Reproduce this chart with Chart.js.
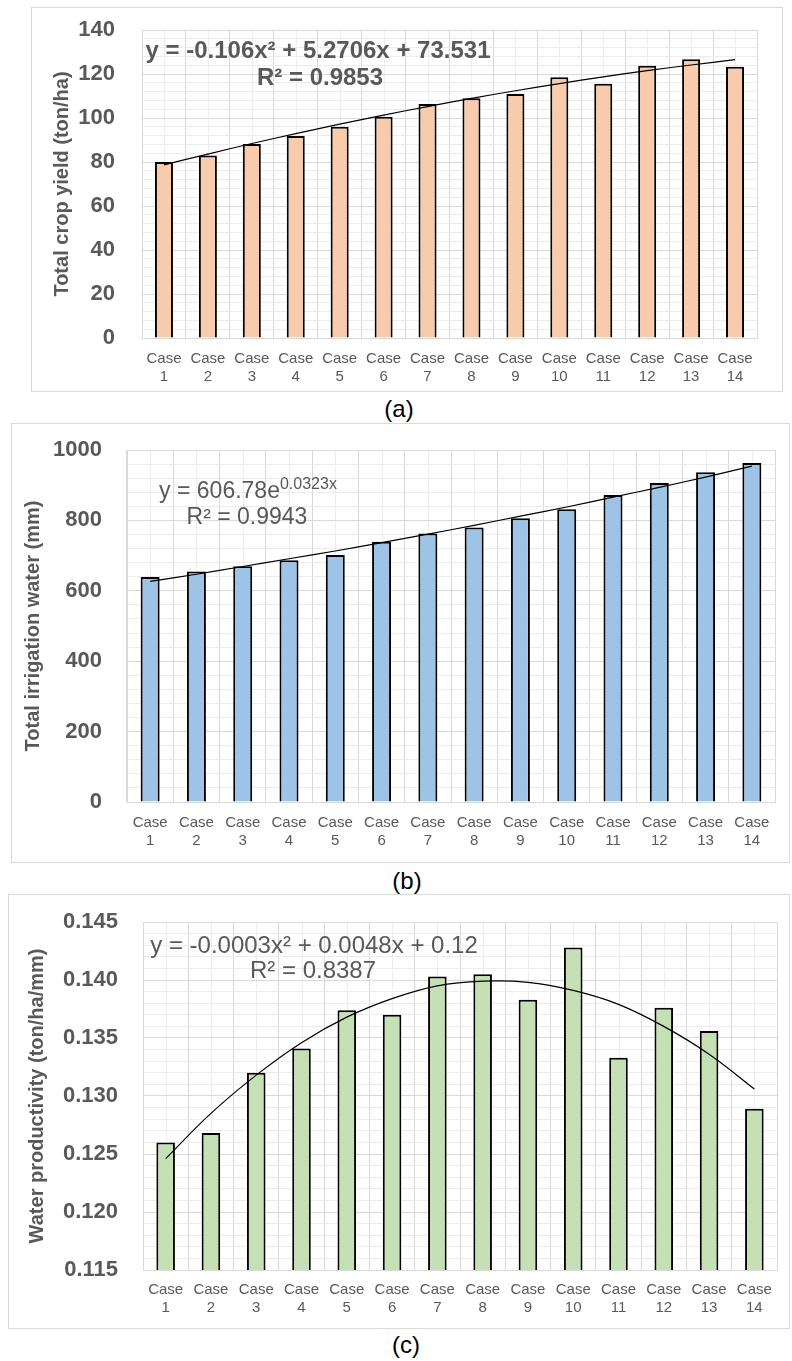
<!DOCTYPE html>
<html>
<head>
<meta charset="utf-8">
<script src="https://cdn.jsdelivr.net/npm/chart.js@4.4.0/dist/chart.umd.min.js"></script>
<style>
  body { margin: 0; background: #fff; font-family: 'Liberation Sans', Arial, sans-serif; }
  #page { position: relative; width: 792px; height: 1361px; overflow: hidden; }
  .box { position: absolute; border: 1px solid #d9d9d9; }
  .box canvas { position: absolute; left: 0; top: 0; }
  .eq { position: absolute; transform: translateX(-50%); white-space: nowrap; color: #595959; font-size: 23px; line-height: 26px; }
  .eq.big { font-size: 24px; }
  .eq.bold { font-weight: bold; }
  .eq sup { font-size: 16px; line-height: 0; }
  .cap { position: absolute; transform: translate(-50%, -50%); font-size: 24px; color: #000; }
</style>
</head>
<body>
<div id="page">
  <div class="box" style="left:31px;top:7px;width:750px;height:383px;"><canvas id="chartA" width="750" height="383"></canvas></div>
  <div class="eq bold big" style="left:318px;top:37px;">y = -0.106x² + 5.2706x + 73.531</div>
  <div class="eq bold big" style="left:320px;top:64px;">R² = 0.9853</div>
  <div class="cap" style="left:399px;top:409px;">(a)</div>

  <div class="box" style="left:11px;top:423px;width:777px;height:438px;"><canvas id="chartB" width="777" height="438"></canvas></div>
  <div class="eq" style="left:248px;top:477px;">y = 606.78e<sup>0.0323x</sup></div>
  <div class="eq" style="left:247px;top:503px;">R² = 0.9943</div>
  <div class="cap" style="left:407px;top:881px;">(b)</div>

  <div class="box" style="left:8px;top:894px;width:780px;height:433px;"><canvas id="chartC" width="780" height="433"></canvas></div>
  <div class="eq big" style="left:314px;top:932px;">y = -0.0003x² + 0.0048x + 0.12</div>
  <div class="eq big" style="left:313px;top:957px;">R² = 0.8387</div>
  <div class="cap" style="left:406px;top:1345px;">(c)</div>
</div>

<script>
// categories
const caseLabels = [
  ['Case', '1'], ['Case', '2'], ['Case', '3'], ['Case', '4'], ['Case', '5'],
  ['Case', '6'], ['Case', '7'], ['Case', '8'], ['Case', '9'], ['Case', '10'],
  ['Case', '11'], ['Case', '12'], ['Case', '13'], ['Case', '14']
];

// (a) total crop yield (ton/ha)
const cropYield = [80, 83, 88.2, 91.8, 96, 100.6, 106.4, 109, 110.9, 118.5, 115.6, 123.8, 126.7, 123.3];
const cropYieldTrend = [78.7, 83.6, 88.4, 92.9, 97.2, 101.3, 105.2, 108.9, 112.4, 115.6, 118.7, 121.5, 124.1, 126.5];

// (b) total irrigation water (mm)
const irrigation = [639, 655, 670, 687, 702, 739, 763, 780, 806, 832, 872, 906, 937, 963];
const irrigationTrend = [627, 647, 669, 691, 713, 737, 761, 786, 812, 838, 866, 894, 923, 954];

// (c) water productivity (ton/ha/mm)
const waterProd = [0.1260, 0.1268, 0.1320, 0.1341, 0.1374, 0.1370, 0.1403, 0.1405, 0.1383, 0.1428, 0.1333, 0.1376, 0.1356, 0.1289];
const waterProdTrend = [0.1246, 0.1285, 0.1318, 0.1346, 0.1368, 0.1384, 0.1395, 0.1399, 0.1398, 0.1391, 0.1379, 0.1360, 0.1336, 0.1306];

const FONT = "'Liberation Sans', Arial, sans-serif";
const GREY = '#595959';
const MAJOR = '#d9d9d9';
const MINOR = '#ececec';

// light vertical lines through the middle of each category (excel minor gridlines)
const minorColumns = {
  id: 'minorColumns',
  beforeDraw(chart) {
    const { ctx, chartArea, scales } = chart;
    ctx.save();
    ctx.strokeStyle = MINOR;
    ctx.lineWidth = 1;
    ctx.beginPath();
    for (let i = 0; i < caseLabels.length; i++) {
      const px = Math.round(scales.x.getPixelForValue(i)) + 0.5;
      ctx.moveTo(px, chartArea.top);
      ctx.lineTo(px, chartArea.bottom);
    }
    ctx.stroke();
    ctx.restore();
  }
};

function makeChart(id, o) {
  return new Chart(document.getElementById(id), {
    type: 'bar',
    data: {
      labels: caseLabels,
      datasets: [
        {
          type: 'line',
          data: o.trend,
          borderColor: '#000',
          borderWidth: 1.2,
          pointRadius: 0,
          tension: 0.4,
          order: 0
        },
        {
          data: o.values,
          backgroundColor: o.fill,
          borderColor: '#000',
          borderWidth: 2,
          barPercentage: 0.41,
          categoryPercentage: 1,
          order: 1
        }
      ]
    },
    options: {
      responsive: false,
      animation: false,
      layout: { padding: o.padding },
      plugins: {
        legend: { display: false },
        tooltip: { enabled: false }
      },
      scales: {
        x: {
          grid: { color: MAJOR, drawTicks: false, offset: true },
          border: { color: MAJOR },
          ticks: {
            color: GREY,
            font: { family: FONT, size: 15, lineHeight: 1.2 },
            padding: o.xPad,
            maxRotation: 0,
            autoSkip: false
          },
          afterFit: s => { s.height = o.xHeight; }
        },
        y: {
          min: o.min,
          max: o.max,
          ticks: {
            stepSize: o.step,
            autoSkip: false,
            padding: 0,
            color: GREY,
            font: { family: FONT, size: 22, weight: 'bold' },
            callback: v => o.isMajor(v) ? o.fmt(v) : ''
          },
          // the gap between labels and plot comes from invisible tick marks,
          // tick padding would also push the plot top down
          grid: {
            drawTicks: true,
            tickLength: o.yGap,
            tickColor: 'rgba(0,0,0,0)',
            color: c => o.isMajor(c.tick.value) ? MAJOR : MINOR
          },
          border: { color: MAJOR },
          title: {
            display: true,
            text: o.title,
            color: GREY,
            padding: 0,
            font: { family: FONT, size: 20, weight: 'bold' }
          },
          afterFit: s => { s.width = o.yWidth; }
        }
      }
    },
    plugins: [minorColumns]
  });
}

makeChart('chartA', {
  values: cropYield, trend: cropYieldTrend, fill: '#f8cbad',
  min: 0, max: 140, step: 4,
  isMajor: v => Math.round(v) % 20 === 0, fmt: v => String(v),
  title: 'Total crop yield (ton/ha)',
  padding: { left: 18, top: 22, right: 25, bottom: 0 },
  yWidth: 92, yGap: 27, xHeight: 53, xPad: 12
});

makeChart('chartB', {
  values: irrigation, trend: irrigationTrend, fill: '#9dc3e6',
  min: 0, max: 1000, step: 40,
  isMajor: v => Math.round(v) % 200 === 0, fmt: v => String(v),
  title: 'Total irrigation water (mm)',
  padding: { left: 9, top: 26, right: 14, bottom: 0 },
  yWidth: 106, yGap: 25, xHeight: 60, xPad: 12
});

makeChart('chartC', {
  values: waterProd, trend: waterProdTrend, fill: '#c5e0b4',
  min: 0.115, max: 0.145, step: 0.001,
  isMajor: v => Math.round(v * 1000) % 5 === 0, fmt: v => v.toFixed(3),
  title: 'Water productivity (ton/ha/mm)',
  padding: { left: 16, top: 27, right: 12, bottom: 0 },
  yWidth: 118, yGap: 25, xHeight: 58, xPad: 11
});
</script>
</body>
</html>
